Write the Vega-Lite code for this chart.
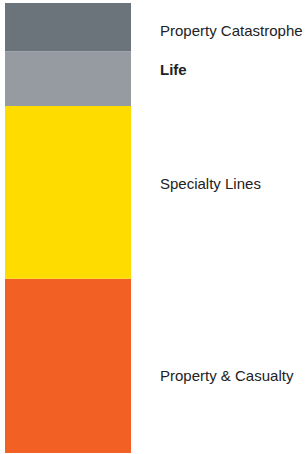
{
  "$schema": "https://vega.github.io/schema/vega-lite/v6.json",
  "width": 306,
  "height": 450,
  "autosize": "none",
  "padding": {"top": 3, "left": 0, "right": 0, "bottom": 1},
  "background": "white",
  "config": {"view": {"stroke": null}, "text": {"align": "left", "baseline": "middle", "font": "Liberation Sans", "fontSize": 15, "color": "#222222"}},
  "data": {
    "values": [
      {"segment": "Property & Casualty", "rank": 1, "share": 38.7},
      {"segment": "Specialty Lines", "rank": 2, "share": 38.4},
      {"segment": "Life", "rank": 3, "share": 12.2},
      {"segment": "Property Catastrophe", "rank": 4, "share": 10.7}
    ]
  },
  "transform": [
    {"stack": "share", "groupby": [], "sort": [{"field": "rank"}], "as": ["y0", "y1"]},
    {"calculate": "(datum.y0 + datum.y1) / 2", "as": "mid"},
    {"calculate": "'all'", "as": "group"}
  ],
  "encoding": {
    "x": {"field": "group", "type": "nominal", "axis": null,
          "scale": {"range": [5, 131], "paddingInner": 0, "paddingOuter": 0}}
  },
  "layer": [
    {
      "mark": {"type": "bar", "cornerRadius": 0},
      "encoding": {
        "y": {"field": "y0", "type": "quantitative", "axis": null, "scale": {"domain": [0, 100], "nice": false, "zero": true}},
        "y2": {"field": "y1"},
        "color": {
          "field": "segment", "type": "nominal", "legend": null,
          "scale": {
            "domain": ["Property Catastrophe", "Life", "Specialty Lines", "Property & Casualty"],
            "range": ["#6b747a", "#959ba1", "#ffdc00", "#f26024"]
          }
        }
      }
    },
    {
      "transform": [{"filter": "datum.segment === 'Property Catastrophe'"}],
      "mark": {"type": "text", "dx": 29, "dy": 4},
      "encoding": {
        "x": {"field": "group", "type": "nominal", "bandPosition": 1},
        "y": {"field": "mid", "type": "quantitative"},
        "text": {"field": "segment"}
      }
    },
    {
      "transform": [{"filter": "datum.segment === 'Life'"}],
      "mark": {"type": "text", "dx": 29, "dy": -9, "fontWeight": 700},
      "encoding": {
        "x": {"field": "group", "type": "nominal", "bandPosition": 1},
        "y": {"field": "mid", "type": "quantitative"},
        "text": {"field": "segment"}
      }
    },
    {
      "transform": [{"filter": "datum.segment === 'Specialty Lines'"}],
      "mark": {"type": "text", "dx": 29, "dy": -8},
      "encoding": {
        "x": {"field": "group", "type": "nominal", "bandPosition": 1},
        "y": {"field": "mid", "type": "quantitative"},
        "text": {"field": "segment"}
      }
    },
    {
      "transform": [{"filter": "datum.segment === 'Property & Casualty'"}],
      "mark": {"type": "text", "dx": 29, "dy": 10},
      "encoding": {
        "x": {"field": "group", "type": "nominal", "bandPosition": 1},
        "y": {"field": "mid", "type": "quantitative"},
        "text": {"field": "segment"}
      }
    }
  ]
}
